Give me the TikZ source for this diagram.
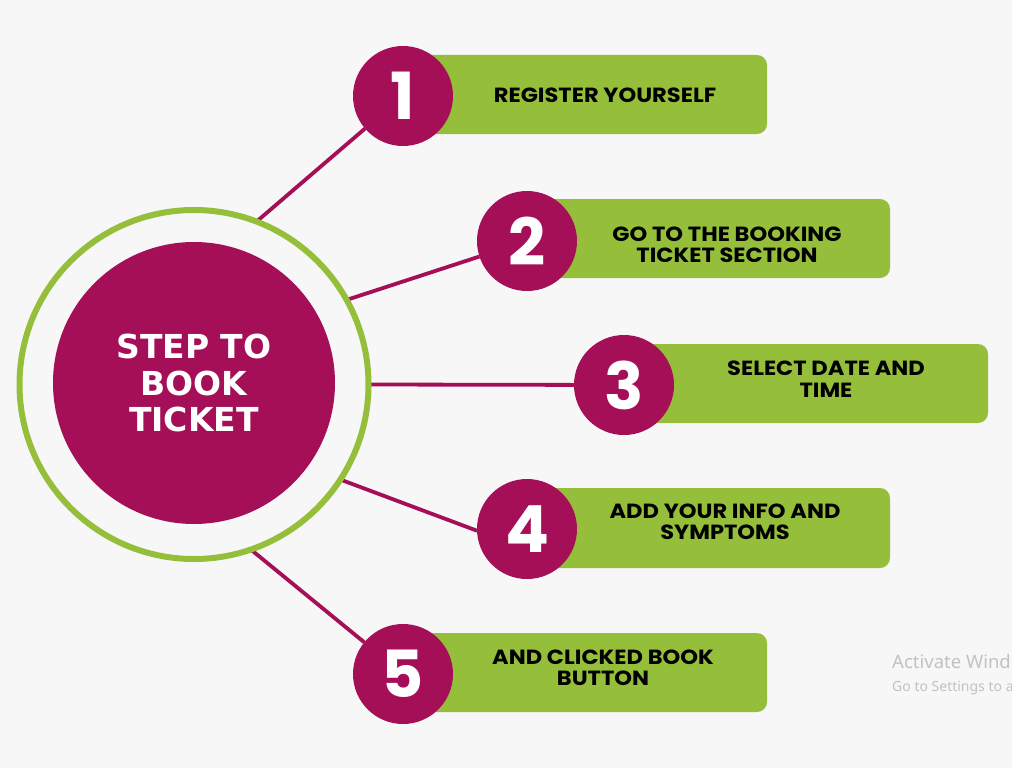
\documentclass[tikz,border=0pt]{standalone}
\usepackage{fontspec}
\newfontfamily\labfont{Poppins}[FakeStretch=1.1]
\newfontfamily\numfont{Poppins}
\newfontfamily\dvfont{DejaVu Sans}
\newfontfamily\wmfont{Noto Sans}
\pgfdeclarelayer{bg}
\pgfdeclarelayer{background}
\pgfsetlayers{bg,background,main}
\definecolor{mag}{HTML}{A50F57}
\definecolor{grn}{HTML}{95BF3A}
\definecolor{pagebg}{HTML}{F7F7F7}
\definecolor{wmgray}{HTML}{C2C2C2}
\tikzset{
  stepbox/.style={fill=grn, rounded corners=10pt, minimum height=79pt, inner sep=0pt, outer sep=0pt},
  numcirc/.style={circle, fill=mag, minimum size=100pt, inner sep=0pt, outer sep=0pt, text=white, font=\numfont\bfseries\fontsize{65}{65}\selectfont},
  steplabel/.style={align=center, text=black, inner sep=0pt, font=\labfont\bfseries\fontsize{20.5}{21.5}\selectfont},
  link/.style={draw=mag, line width=3.8pt},
}
\begin{document}
\begin{tikzpicture}[x=1pt,y=-1pt]
\begin{pgfonlayer}{bg}
\fill[pagebg] (0,0) rectangle (1012,768);
\end{pgfonlayer}
\useasboundingbox (0,0) rectangle (1012,768);
% centre
\node (ring) [circle, draw=grn, line width=6pt, minimum size=349pt, inner sep=0pt, outer sep=0pt] at (194,384.5) {};
\node (hub) [circle, fill=mag, minimum size=282pt, inner sep=0pt, text=white, align=center,
  font=\dvfont\bfseries\fontsize{33}{36.5}\selectfont] at (194,383) {STEP TO\\BOOK\\TICKET};
% boxes
\node (b1) [stepbox, minimum width=364pt] at (585,94.5) {};
\node (b2) [stepbox, minimum width=363pt] at (708.5,238.5) {};
\node (b3) [stepbox, minimum width=364pt] at (806,383.5) {};
\node (b4) [stepbox, minimum width=363pt, minimum height=80pt] at (708.5,528) {};
\node (b5) [stepbox, minimum width=364pt] at (585,672.5) {};
% number circles
\node (n1) [numcirc] at (403,96) {1};
\node (n2) [numcirc] at (527,241) {2};
\node (n3) [numcirc] at (624,385) {3};
\node (n4) [numcirc] at (527,529) {4};
\node (n5) [numcirc] at (403,674) {5};
% labels
\node (t1) [steplabel] at (605,95) {REGISTER YOURSELF};
\node (t2) [steplabel] at (727,245) {GO TO THE BOOKING\\TICKET SECTION};
\node (t3) [steplabel] at (826,379) {SELECT DATE AND\\TIME};
\node (t4) [steplabel] at (725,522) {ADD YOUR INFO AND\\SYMPTOMS};
\node (t5) [steplabel] at (603,668) {AND CLICKED BOOK\\BUTTON};
% connectors
\begin{pgfonlayer}{background}
\draw[link] (ring.69.7) -- (n1);
\draw[link] (ring.29.6) -- (n2);
\draw[link] (ring.0) -- (n3);
\draw[link] (ring.-33) -- (n4.182);
\draw[link] (ring.-71.7) -- (n5);
\end{pgfonlayer}
% watermark
\node (wm1) [anchor=base west, inner sep=0pt, text=wmgray, font=\wmfont\fontsize{18.5}{18.5}\selectfont] at (892,668) {Activate Wind};
\node (wm2) [anchor=base west, inner sep=0pt, text=wmgray, font=\wmfont\fontsize{14}{14}\selectfont] at (892,691) {Go to Settings to a};
\end{tikzpicture}
\end{document}
